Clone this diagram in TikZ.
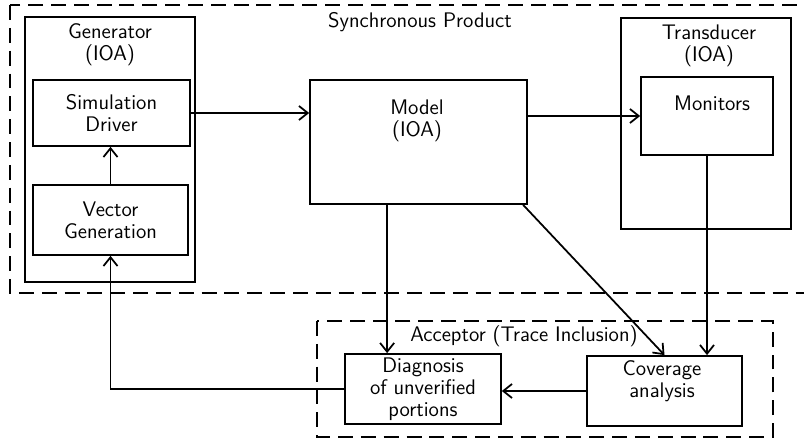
\documentclass[tikz,border=0pt]{standalone}
\usepackage{tikz}
\usetikzlibrary{arrows.meta, positioning}

\begin{document}
\begin{tikzpicture}[
    x=0.02cm, y=-0.02cm,
    >={Straight Barb[length=5pt,width=8pt]},
    font=\sffamily\fontsize{12}{12.5}\selectfont,
    block/.style={
        rectangle,
        draw=black,
        line width=1pt,
        align=center,
        inner sep=0pt
    },
    group/.style={
        rectangle,
        draw=black,
        line width=1pt,
        dash pattern=on 8.5pt off 4.5pt
    },
    caption/.style={
        align=center,
        inner sep=0pt
    },
    link/.style={
        ->,
        line width=1pt
    }
]
    \useasboundingbox (0, 0) rectangle (804, 442);

    % Dashed groups
    \draw[group] (10, 5) rectangle (812, 293);
    \draw[group] (317, 321) rectangle (773, 437);
    \node[caption] (synclbl) at (420, 22) {Synchronous Product};
    \node[caption] (acclbl) at (524, 336) {Acceptor (Trace Inclusion)};

    % Generator
    \node[block, minimum width=3.4cm, minimum height=5.3cm] (gen) at (110, 149.5) {};
    \node[caption] (genlbl) at (110, 45) {Generator\\(IOA)};
    \node[block, minimum width=3.14cm, minimum height=1.32cm] (sim) at (111.5, 113) {Simulation\\Driver};
    \node[block, minimum width=3.1cm, minimum height=1.4cm] (vec) at (110.5, 220) {Vector\\Generation};

    % Model
    \node[block, minimum width=4.34cm, minimum height=2.48cm] (model) at (418.5, 142) {};
    \node[caption] (modellbl) at (417, 121) {Model\\(IOA)};

    % Transducer
    \node[block, minimum width=3.4cm, minimum height=4.22cm] (trans) at (706, 123.5) {};
    \node[caption] (translbl) at (709, 46) {Transducer\\(IOA)};
    \node[block, minimum width=2.64cm, minimum height=1.56cm] (mon) at (707, 116) {};
    \node[caption] (monlbl) at (712, 103) {Monitors};

    % Acceptor
    \node[block, minimum width=3.12cm, minimum height=1.4cm] (diag) at (423, 389) {Diagnosis\\of unverified\\portions};
    \node[block, minimum width=3.1cm, minimum height=1.4cm] (cov) at (664.5, 391) {};
    \node[caption] (covlbl) at (662, 381) {Coverage\\analysis};

    % Connections
    \draw[link] (vec.north) -- (vec.north |- sim.south);
    \draw[link] (sim.east) -- (sim.east -| model.west);
    \draw[link] (model.east |- mon.west) -- (mon.west);
    \draw[link] (model.south -| diag.135) -- (diag.135);
    \draw[link] (model.-31) -- (cov.north);
    \draw[link] (mon.south) -- (mon.south |- cov.north);
    \draw[link] (cov.west) -- (cov.west -| diag.east);
    \draw[link] (diag.west) -| (vec.south);
\end{tikzpicture}
\end{document}
